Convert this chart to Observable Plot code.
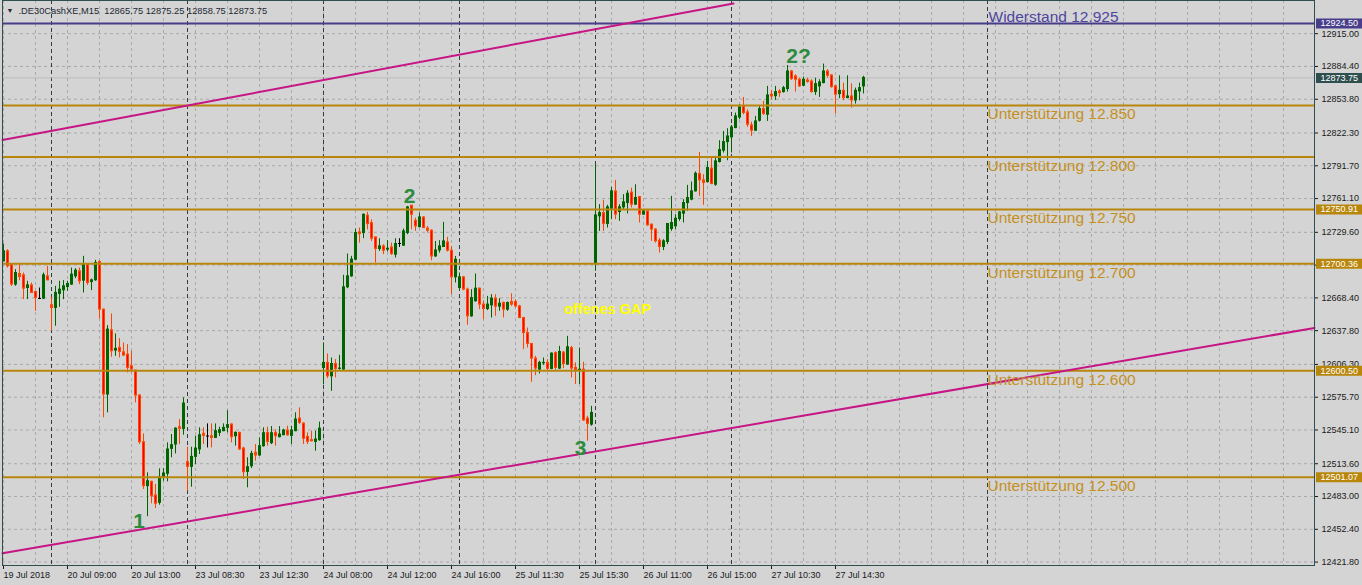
<!DOCTYPE html>
<html>
<head>
<meta charset="utf-8">
<script src="https://cdn.jsdelivr.net/npm/d3@7"></script>
<script src="https://cdn.jsdelivr.net/npm/@observablehq/plot@0.6"></script>
<style>
html, body { margin: 0; padding: 0; background: #d4d4d4; overflow: hidden; }
#chart { width: 1362px; height: 585px; overflow: hidden; }
#chart svg { display: block; }
</style>
</head>
<body>
<div id="chart"></div>
<script>
// ---- M15 candles, .DE30CashXE (index 0 = 19 Jul 2018) ----
const opens = [12702.5,12711.9,12699.4,12680.8,12690.7,12689.5,12677.6,12680.1,12673.9,12667.4,12667.7,12688.5,12661.5,12659.0,12672.1,12675.5,12678.6,12680.8,12688.5,12693.2,12684.5,12699.4,12683.2,12684.8,12701.9,12657.4,12578.2,12638.2,12619.2,12621.7,12617.6,12615.5,12604.6,12600.5,12577.2,12533.7,12492.7,12496.7,12484.0,12477.1,12501.4,12504.2,12527.5,12531.5,12547.7,12546.1,12515.1,12510.7,12520.0,12526.9,12541.5,12539.0,12539.3,12537.7,12542.4,12544.0,12547.1,12550.2,12539.3,12542.4,12527.8,12506.0,12511.3,12523.8,12521.3,12530.0,12542.4,12532.8,12542.4,12538.4,12540.2,12544.6,12539.6,12544.0,12555.8,12551.1,12538.7,12535.6,12534.0,12535.6,12603.0,12607.7,12595.2,12606.7,12602.1,12601.5,12678.3,12688.5,12704.0,12729.5,12728.9,12745.1,12738.2,12724.9,12714.0,12716.5,12713.4,12715.5,12708.7,12718.7,12717.1,12728.9,12754.4,12740.4,12734.5,12743.5,12733.0,12731.1,12707.1,12712.7,12715.9,12720.2,12712.4,12687.6,12677.6,12687.6,12676.1,12651.2,12665.2,12677.0,12662.1,12658.0,12661.4,12667.7,12660.2,12663.6,12657.4,12664.6,12664.6,12660.5,12649.6,12635.6,12625.4,12611.7,12601.4,12607.4,12607.7,12602.1,12617.0,12602.4,12617.3,12606.1,12621.6,12603.0,12600.5,12601.4,12555.7,12550.1,12701.0,12744.5,12747.6,12737.4,12751.7,12767.8,12748.5,12752.9,12756.9,12766.6,12755.4,12762.5,12746.1,12749.2,12736.7,12732.1,12721.8,12715.9,12720.6,12732.7,12735.2,12742.0,12747.0,12756.9,12760.1,12767.8,12784.0,12778.1,12776.5,12789.0,12774.0,12795.2,12805.8,12813.8,12818.2,12826.9,12836.8,12847.1,12841.5,12829.4,12824.4,12833.7,12844.6,12839.3,12858.0,12856.7,12861.1,12860.5,12863.3,12879.7,12875.1,12872.0,12866.4,12871.4,12870.4,12860.5,12865.8,12868.9,12879.7,12876.0,12865.8,12858.6,12861.7,12854.9,12856.4,12852.7,12861.1,12865.75];
const highs = [12718.7,12713.4,12700.0,12694.8,12699.4,12691.6,12683.9,12682.3,12674.5,12677.6,12691.6,12697.9,12668.9,12679.2,12683.9,12684.5,12683.9,12696.3,12695.7,12696.3,12707.2,12700.0,12686.0,12703.5,12703.1,12658.0,12642.5,12653.4,12634.7,12630.4,12626.4,12624.8,12618.6,12601.0,12578.0,12541.5,12505.1,12497.3,12494.2,12508.8,12509.1,12533.1,12540.9,12547.1,12554.8,12575.1,12529.0,12529.0,12539.3,12547.1,12547.1,12550.8,12550.8,12550.8,12547.7,12550.8,12563.2,12550.8,12543.3,12543.0,12529.0,12519.1,12525.3,12531.5,12537.7,12547.1,12547.7,12548.3,12545.2,12548.3,12545.8,12548.6,12548.6,12561.1,12565.7,12551.7,12542.4,12544.0,12544.0,12552.4,12626.3,12616.1,12612.3,12610.8,12614.8,12689.5,12709.4,12707.2,12732.6,12733.6,12746.6,12748.2,12741.3,12725.2,12723.6,12718.0,12721.8,12719.6,12723.6,12723.6,12732.6,12753.8,12754.7,12742.9,12747.6,12744.1,12735.1,12732.0,12721.1,12721.8,12738.9,12724.9,12716.5,12707.1,12691.6,12688.5,12677.6,12676.1,12690.7,12677.6,12665.2,12669.8,12671.4,12671.4,12667.7,12664.6,12664.6,12672.3,12666.7,12661.4,12650.3,12640.3,12625.4,12613.9,12609.2,12612.3,12610.8,12617.0,12618.0,12623.2,12618.5,12632.5,12623.2,12607.7,12621.6,12608.3,12557.9,12567.2,12792.7,12755.4,12759.4,12754.8,12771.6,12778.1,12755.4,12764.7,12768.4,12770.9,12774.0,12763.1,12749.8,12749.5,12737.4,12733.0,12723.7,12722.7,12737.4,12763.2,12746.1,12749.2,12760.1,12773.4,12776.5,12785.9,12804.2,12783.4,12795.8,12800.2,12800.5,12815.1,12823.8,12826.3,12829.4,12840.9,12848.7,12855.5,12844.0,12832.5,12837.8,12847.1,12851.8,12865.8,12862.0,12865.8,12862.6,12865.8,12885.3,12880.7,12876.6,12873.5,12874.5,12873.5,12872.0,12873.5,12872.0,12886.6,12881.3,12876.6,12866.7,12875.7,12868.9,12875.7,12868.2,12864.2,12868.9,12875.25];
const lows = [12701.9,12696.3,12679.2,12679.2,12684.5,12666.8,12666.8,12672.5,12655.9,12666.8,12666.8,12684.5,12637.2,12641.9,12659.6,12666.8,12674.5,12680.1,12686.4,12680.8,12673.0,12680.1,12675.2,12683.9,12648.7,12556.4,12561.1,12613.0,12613.9,12612.4,12613.9,12598.4,12598.4,12570.4,12531.5,12489.6,12464.1,12476.2,12471.8,12474.9,12497.3,12496.7,12519.1,12522.8,12531.5,12540.2,12488.0,12491.7,12512.9,12522.2,12531.5,12528.4,12528.4,12537.1,12539.0,12543.5,12542.4,12533.1,12530.0,12525.9,12498.9,12491.1,12509.1,12516.0,12520.6,12529.0,12530.0,12531.5,12530.0,12537.7,12539.9,12539.3,12531.5,12543.5,12550.2,12531.5,12531.5,12534.0,12525.3,12534.6,12587.5,12593.1,12581.2,12593.7,12601.0,12600.5,12677.0,12687.6,12703.4,12719.6,12723.6,12732.0,12721.1,12700.9,12711.8,12708.7,12711.2,12708.1,12705.6,12715.5,12716.5,12727.4,12732.0,12730.5,12733.6,12733.0,12728.9,12703.1,12706.2,12710.2,12715.6,12711.2,12671.4,12682.3,12674.5,12675.1,12642.8,12650.3,12664.6,12657.4,12648.1,12656.5,12649.6,12651.2,12655.9,12649.6,12655.9,12660.5,12659.0,12649.0,12620.1,12621.6,12589.6,12595.8,12597.4,12605.5,12600.5,12601.4,12600.8,12601.4,12602.4,12605.5,12593.7,12587.5,12587.5,12553.3,12534.6,12548.6,12693.2,12730.5,12730.5,12733.6,12741.4,12741.4,12739.8,12750.7,12746.7,12752.3,12754.8,12738.3,12745.8,12735.2,12721.2,12719.6,12710.3,12712.5,12718.1,12730.5,12732.1,12739.8,12738.3,12749.2,12759.1,12767.2,12763.2,12754.8,12775.6,12774.0,12772.5,12794.3,12803.6,12796.4,12803.6,12826.3,12834.7,12839.3,12827.5,12819.1,12823.8,12832.5,12838.7,12833.1,12853.3,12852.7,12855.5,12859.5,12860.5,12871.4,12860.5,12864.8,12865.8,12868.9,12859.5,12857.4,12855.5,12868.2,12873.5,12864.2,12840.0,12854.3,12852.4,12854.3,12845.5,12849.3,12852.4,12858.75];
const closes = [12711.9,12697.9,12680.8,12691.6,12687.9,12677.0,12680.1,12673.0,12668.3,12667.4,12689.5,12684.8,12659.0,12673.0,12676.1,12679.2,12681.4,12690.1,12693.8,12683.9,12700.0,12682.3,12684.8,12701.0,12657.4,12578.2,12638.8,12618.6,12620.8,12618.0,12614.5,12603.0,12601.5,12577.2,12533.7,12492.7,12497.3,12483.3,12476.2,12501.1,12504.5,12526.9,12530.9,12546.4,12546.1,12569.8,12510.7,12520.0,12527.8,12540.2,12539.6,12539.0,12537.7,12544.0,12544.9,12547.1,12549.6,12538.4,12542.4,12526.9,12505.7,12510.4,12522.8,12521.3,12530.0,12542.1,12534.0,12542.1,12539.3,12540.9,12544.6,12540.2,12544.6,12554.8,12551.7,12536.8,12534.0,12534.6,12536.2,12546.4,12607.7,12595.2,12606.7,12602.1,12602.4,12678.3,12688.5,12704.1,12728.9,12728.0,12746.0,12737.3,12723.6,12714.0,12716.5,12712.4,12714.3,12709.3,12718.7,12718.7,12730.5,12752.8,12746.0,12735.1,12743.5,12733.6,12731.1,12707.1,12712.7,12716.5,12721.1,12712.4,12687.6,12704.0,12687.6,12676.1,12651.2,12668.3,12677.0,12662.1,12658.0,12662.1,12667.7,12660.2,12663.0,12657.4,12663.6,12662.1,12660.5,12649.6,12635.6,12625.4,12611.7,12602.4,12607.7,12607.7,12602.1,12616.4,12603.0,12617.9,12606.7,12622.3,12602.4,12600.5,12601.4,12553.9,12550.8,12561.0,12745.4,12747.6,12737.4,12752.9,12767.8,12746.1,12752.9,12757.6,12765.6,12755.4,12761.6,12746.1,12749.2,12736.1,12732.1,12721.2,12715.9,12721.2,12737.4,12738.3,12742.3,12748.2,12756.9,12761.6,12767.8,12784.3,12778.1,12775.6,12789.6,12774.7,12795.8,12806.4,12813.8,12819.1,12827.5,12837.8,12846.2,12840.9,12830.0,12824.4,12833.1,12844.6,12840.0,12857.4,12856.4,12860.5,12859.5,12864.2,12879.7,12872.6,12872.0,12865.8,12872.0,12869.8,12860.5,12867.9,12869.5,12879.7,12875.7,12865.1,12858.0,12861.7,12854.9,12856.4,12852.7,12861.7,12864.2,12873.75];

// ---- time axis labels (bar index -> label) ----
const timeTickIndex = [0,16,32,48,64,80,96,112,128,144,160,176,192,208];
const timeTickLabels = ["19 Jul 2018","20 Jul 09:00","20 Jul 13:00","23 Jul 08:30","23 Jul 12:30","24 Jul 08:00","24 Jul 12:00","24 Jul 16:00","25 Jul 11:30","25 Jul 15:30","26 Jul 11:00","26 Jul 15:00","27 Jul 10:30","27 Jul 14:30"];

// ---- price axis ticks ----
const priceTicks = [12915.00,12884.40,12853.80,12822.30,12791.70,12761.10,12729.60,12699.00,12668.40,12637.80,12606.30,12575.70,12545.10,12513.60,12483.00,12452.40,12421.80];

// ---- period separators (bar index) ----
const separators = [12,46,80,114,148,182,246];

// ---- horizontal levels ----
const resistanceLevels = [12924.5];
const resistanceTexts = ["Widerstand 12.925"];
const supportLevels = [12848,12800,12750.91,12700.36,12600.5,12501.07];
const supportTexts = ["Unterstützung 12.850","Unterstützung 12.800","Unterstützung 12.750","Unterstützung 12.700","Unterstützung 12.600","Unterstützung 12.500"];

// ---- axis price markers ----
const markerPrices = [12924.5,12873.75,12750.91,12700.36,12600.5,12501.07];
const markerColors = ["#483d8b","#2f4f4f","#b8860b","#b8860b","#b8860b","#b8860b"];

// ---- trend lines (bar index, price) ----
const trendUpperIdx = [-0.25,182.5];
const trendUpperPrice = [12815.7,12943.2];
const trendLowerIdx = [-0.25,327.75];
const trendLowerPrice = [12430.1,12640.3];

// ---- annotations ----
const waveIdx = [33.9,101.5,144.25,198.75];
const wavePrice = [12453.2,12756.5,12521.3,12887.2];
const waveText = ["1","2","3","2?"];
const gapIdx = [151];
const gapPrice = [12652.9];
const gapText = ["offenes GAP"];

// ---------------------------------------------------------
const candles = opens.map((o, i) => ({i, o, h: highs[i], l: lows[i], c: closes[i]}));
const candleColor = d => d.c > d.o ? "#006400" : d.c < d.o ? "#ff4500" : "#000000";
const bearBig = candles.filter(d => d.o - d.c > 3);
const last = candles[candles.length - 1];
const header = `.DE30CashXE,M15\u00a0\u00a0${last.o.toFixed(2)} ${last.h.toFixed(2)} ${last.l.toFixed(2)} ${last.c.toFixed(2)}`;

const res = resistanceLevels.map((p, k) => ({p, t: resistanceTexts[k]}));
const sup = supportLevels.map((p, k) => ({p, t: supportTexts[k]}));
const markers = markerPrices.map((p, k) => ({p, color: markerColors[k]}));
const upper = trendUpperIdx.map((i, k) => ({i, p: trendUpperPrice[k]}));
const lower = trendLowerIdx.map((i, k) => ({i, p: trendLowerPrice[k]}));
const waves = waveIdx.map((i, k) => ({i, p: wavePrice[k], t: waveText[k]}));
const gaps = gapIdx.map((i, k) => ({i, p: gapPrice[k], t: gapText[k]}));
const labelX = separators[separators.length - 1];

const xMax = 327.75;
const font = "'Liberation Sans', Arial, sans-serif";

const chart = Plot.plot({
  width: 1362,
  height: 585,
  marginLeft: 2,
  marginRight: 48,
  marginTop: 0,
  marginBottom: 20,
  style: {background: "#d4d4d4", fontFamily: font, overflow: "hidden"},
  x: {domain: [-0.25, xMax], axis: null, label: null},
  y: {domain: [12418.62, 12945.97], axis: null, label: null},
  marks: [
    // grid
    Plot.ruleX(d3.range(0, 328, 8), {stroke: "#a9a9a9", strokeDasharray: "3,3"}),
    Plot.ruleY(priceTicks, {stroke: "#a9a9a9", strokeDasharray: "3,3"}),
    Plot.ruleX(separators, {stroke: "#2f3f3f", strokeDasharray: "4,3"}),
    Plot.ruleY([last.c], {stroke: "#bcbcbc"}),
    // candles
    Plot.ruleX(candles, {x: "i", y1: "l", y2: "h", stroke: candleColor}),
    Plot.ruleX(candles, {x: "i", y1: d => Math.max(d.o, d.c), y2: d => Math.min(d.o, d.c), stroke: candleColor, strokeWidth: 3, insetTop: -0.5, insetBottom: -0.5}),
    Plot.ruleX(bearBig, {x: "i", y1: "o", y2: "c", stroke: "#ff0000", strokeWidth: 1, insetTop: 1, insetBottom: 1}),
    // levels
    Plot.ruleY(res, {y: "p", stroke: "#483d8b", strokeWidth: 2}),
    Plot.ruleY(sup, {y: "p", stroke: "#b8860b", strokeWidth: 2}),
    Plot.line(upper, {x: "i", y: "p", stroke: "#c71585", strokeWidth: 2}),
    Plot.line(lower, {x: "i", y: "p", stroke: "#c71585", strokeWidth: 2}),
    Plot.text(res, {x: labelX, y: "p", text: "t", textAnchor: "start", lineAnchor: "bottom", dx: 1, dy: -2, fontSize: 15.5, fill: "#4f45a0"}),
    Plot.text(sup, {x: labelX, y: "p", text: "t", textAnchor: "start", lineAnchor: "bottom", dx: 0, dy: 14, fontSize: 15.5, fill: "#c4901e"}),
    // annotations
    Plot.text(waves, {x: "i", y: "p", text: "t", lineAnchor: "bottom", fontSize: 21, fontWeight: "bold", fill: "#2e8b3e"}),
    Plot.text(gaps, {x: "i", y: "p", text: "t", lineAnchor: "bottom", fontSize: 14.5, fontWeight: "bold", fill: "#ffff00"}),
    Plot.text([header], {frameAnchor: "top-left", dx: 16, dy: 6.5, lineAnchor: "top", textAnchor: "start", fontSize: 9.3, fill: "#1c2833"}),
    Plot.text(["▼"], {frameAnchor: "top-left", dx: 4, dy: 8, lineAnchor: "top", textAnchor: "start", fontSize: 7, fill: "#1c2833"}),
    // axes
    Plot.axisY({anchor: "right", label: null, ticks: priceTicks, tickFormat: d => d.toFixed(2), tickSize: 3, tickPadding: 4, fontSize: 9, color: "#1a1a1a"}),
    Plot.axisX({anchor: "bottom", label: null, ticks: timeTickIndex, tickFormat: (d, k) => timeTickLabels[k], tickSize: 4, tickPadding: 2, textAnchor: "start", fontSize: 9, color: "#1a1a1a"}),
    Plot.frame({stroke: "#2f4f4f"}),
    // price markers on the axis
    Plot.ruleY(markers, {y: "p", x1: xMax + 0.5, x2: xMax + 12, stroke: "color", strokeWidth: 10}),
    Plot.text(markers, {y: "p", x: xMax + 0.5, dx: 4, text: d => d.p.toFixed(2), textAnchor: "start", fontSize: 9, fill: "#ffffff"})
  ]
});
document.getElementById("chart").append(chart);
</script>
</body>
</html>
